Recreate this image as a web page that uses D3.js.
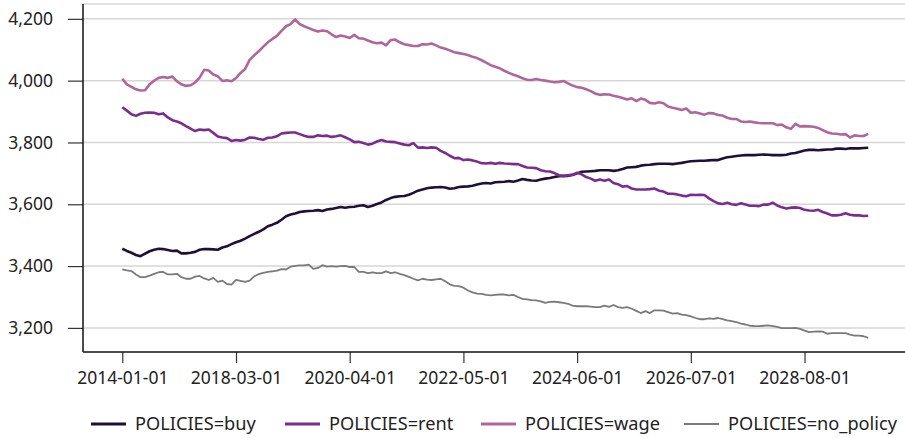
<!DOCTYPE html>
<html>
<head>
<meta charset="utf-8">
<script src="https://cdn.jsdelivr.net/npm/d3@7"></script>
<style>
  html, body { margin: 0; padding: 0; background: #fff; }
  svg text { font-family: "Noto Sans", "Open Sans", sans-serif; fill: #222; }
</style>
</head>
<body>
<svg id="chart" width="905" height="438"></svg>
<script>
// Period labels: the opening 2014 point, then monthly from March 2016
const fmt = d3.timeFormat("%Y-%m-%d");
const dates = ["2014-01-01"].concat(
  d3.range(164).map(k => fmt(d3.timeMonth.offset(new Date(2016, 2, 1), k)))
);

const yTicks = [3200, 3400, 3600, 3800, 4000, 4200];

const buy = [
  3456,3449,3443,3436,3432,3440,3448,3453,3456,3455,3452,3449,3450,3441,3441,3443,3446,3453,3455,3455,
  3454,3453,3460,3464,3471,3477,3482,3489,3497,3504,3511,3519,3529,3534,3540,3550,3561,3567,3570,3575,
  3577,3578,3579,3581,3578,3583,3585,3588,3591,3589,3591,3592,3595,3597,3591,3595,3601,3606,3614,3620,
  3624,3626,3627,3631,3637,3644,3648,3652,3654,3655,3656,3654,3650,3652,3656,3657,3658,3660,3664,3667,
  3669,3667,3671,3672,3673,3675,3673,3677,3682,3679,3677,3676,3680,3683,3685,3688,3691,3692,3692,3695,
  3700,3705,3706,3707,3708,3710,3710,3710,3708,3710,3714,3719,3720,3721,3725,3727,3728,3730,3731,3731,
  3731,3730,3732,3734,3737,3739,3740,3741,3741,3742,3743,3743,3748,3752,3754,3756,3758,3759,3759,3759,
  3760,3761,3760,3759,3759,3759,3760,3764,3766,3770,3774,3776,3776,3775,3776,3777,3777,3780,3780,3779,
  3781,3781,3781,3782,3783
];

const rent = [
  3914,3903,3891,3886,3893,3896,3897,3896,3891,3894,3881,3872,3868,3862,3853,3845,3837,3842,3840,3842,
  3831,3819,3816,3814,3805,3808,3806,3809,3816,3815,3811,3809,3815,3816,3820,3829,3831,3832,3832,3827,
  3822,3818,3818,3823,3821,3822,3818,3820,3823,3817,3810,3801,3802,3798,3793,3796,3803,3808,3803,3802,
  3801,3797,3793,3791,3798,3783,3784,3782,3784,3783,3773,3766,3757,3749,3750,3743,3745,3742,3738,3733,
  3732,3734,3731,3734,3732,3731,3730,3730,3724,3719,3718,3717,3710,3707,3706,3701,3694,3691,3694,3696,
  3702,3697,3688,3683,3676,3680,3676,3680,3669,3665,3657,3659,3651,3648,3648,3648,3649,3651,3644,3641,
  3634,3634,3632,3628,3626,3631,3630,3631,3630,3619,3610,3603,3601,3605,3600,3598,3603,3599,3595,3595,
  3594,3599,3599,3605,3596,3590,3586,3589,3590,3588,3582,3580,3579,3582,3575,3570,3564,3564,3566,3571,
  3566,3564,3564,3562,3563
];

const wage = [
  4006,3988,3980,3972,3968,3969,3988,4000,4009,4012,4009,4013,3998,3988,3983,3985,3994,4010,4035,4033,
  4020,4014,3999,4001,3998,4008,4025,4038,4067,4082,4095,4110,4124,4135,4145,4161,4176,4183,4198,4183,
  4176,4170,4164,4159,4162,4160,4150,4141,4146,4143,4138,4148,4137,4136,4130,4124,4121,4123,4114,4131,
  4133,4124,4118,4115,4112,4112,4118,4117,4120,4114,4107,4103,4098,4092,4089,4086,4083,4077,4073,4066,
  4058,4050,4045,4040,4032,4025,4019,4014,4008,4003,4002,4005,4002,4000,3997,3995,3996,3999,3991,3984,
  3979,3977,3972,3966,3958,3954,3956,3955,3951,3948,3944,3939,3943,3934,3942,3938,3928,3926,3930,3927,
  3916,3912,3909,3905,3910,3896,3898,3894,3890,3895,3894,3889,3887,3880,3876,3876,3868,3866,3868,3865,
  3863,3862,3862,3862,3856,3858,3849,3844,3860,3852,3853,3852,3851,3847,3840,3833,3829,3828,3826,3827,
  3816,3823,3821,3821,3828
];

const noPolicy = [
  3389,3386,3384,3373,3364,3364,3369,3375,3380,3381,3373,3373,3375,3364,3359,3359,3366,3368,3360,3355,
  3362,3349,3353,3342,3340,3355,3352,3349,3353,3367,3374,3378,3381,3383,3385,3390,3389,3398,3401,3402,
  3402,3405,3391,3394,3403,3398,3400,3398,3400,3401,3397,3397,3381,3381,3377,3380,3377,3377,3383,3377,
  3380,3375,3371,3365,3359,3354,3359,3356,3355,3357,3359,3351,3341,3336,3335,3330,3321,3315,3311,3310,
  3307,3305,3307,3308,3308,3305,3307,3300,3294,3292,3290,3289,3286,3281,3284,3285,3283,3281,3278,3272,
  3270,3270,3270,3269,3267,3267,3272,3268,3274,3267,3265,3267,3262,3255,3248,3254,3248,3257,3257,3256,
  3251,3246,3248,3243,3241,3237,3232,3228,3228,3231,3229,3232,3228,3224,3222,3219,3214,3211,3207,3206,
  3206,3207,3208,3206,3203,3199,3199,3199,3200,3197,3191,3186,3188,3189,3188,3181,3183,3183,3183,3183,
  3178,3175,3175,3173,3168
];

const seriesNames = ["POLICIES=buy", "POLICIES=rent", "POLICIES=wage", "POLICIES=no_policy"];
const seriesValues = [buy, rent, wage, noPolicy];
const colors = ["#1f1038", "#7b2d8e", "#b0669c", "#7a7a7a"];
const widths = [2.6, 2.6, 2.6, 1.8];

const svg = d3.select("#chart");
const plot = { left: 83, right: 905, top: 4, bottom: 352 };

const x = d3.scalePoint().domain(dates).range([122.3, 868.2]);
const y = d3.scaleLinear().domain([3122, 4248]).range([plot.bottom, plot.top]);

// horizontal gridlines and top frame line
svg.append("g").selectAll("line").data(yTicks).join("line")
  .attr("x1", plot.left).attr("x2", plot.right)
  .attr("y1", d => y(d)).attr("y2", d => y(d))
  .attr("stroke", "#d6d6d6").attr("stroke-width", 1.5);
svg.append("line")
  .attr("x1", plot.left).attr("x2", plot.right)
  .attr("y1", plot.top).attr("y2", plot.top)
  .attr("stroke", "#d6d6d6").attr("stroke-width", 1.5);

// lines
const line = d3.line().x((d, i) => x(dates[i])).y(d => y(d));
svg.append("g").selectAll("path").data(seriesValues).join("path")
  .attr("d", d => line(d))
  .attr("fill", "none")
  .attr("stroke", (d, i) => colors[i])
  .attr("stroke-width", (d, i) => widths[i])
  .attr("stroke-linejoin", "round");

// y axis
const yAxis = svg.append("g").attr("transform", `translate(${plot.left},0)`)
  .call(d3.axisLeft(y).tickValues(yTicks).tickFormat(d3.format(",")).tickSize(15).tickPadding(15));
yAxis.select(".domain").remove();
yAxis.selectAll(".tick line").attr("stroke", "#333").attr("stroke-width", 1.2);
yAxis.selectAll(".tick text").attr("font-size", 17.5).attr("fill", "#222");
svg.append("line").attr("x1", plot.left).attr("x2", plot.left)
  .attr("y1", plot.top).attr("y2", plot.bottom)
  .attr("stroke", "#111").attr("stroke-width", 1.5);

// x axis
const xAxis = svg.append("g").attr("transform", `translate(0,${plot.bottom})`)
  .call(d3.axisBottom(x).tickValues(dates.filter((d, i) => i % 25 === 0)).tickSize(11).tickPadding(9));
xAxis.select(".domain").remove();
xAxis.selectAll(".tick line").attr("stroke", "#333").attr("stroke-width", 1.2);
xAxis.selectAll(".tick text").attr("font-size", 17.5).attr("fill", "#222");
svg.append("line").attr("x1", plot.left).attr("x2", plot.right)
  .attr("y1", plot.bottom).attr("y2", plot.bottom)
  .attr("stroke", "#111").attr("stroke-width", 1.5);

// legend
const legendX = [91, 285, 481, 684];
const legend = svg.append("g").selectAll("g").data(seriesNames).join("g")
  .attr("transform", (d, i) => `translate(${legendX[i]},424)`);
legend.append("line").attr("x1", 0).attr("x2", 35).attr("y1", 0).attr("y2", 0)
  .attr("stroke", (d, i) => colors[i]).attr("stroke-width", (d, i) => i === 3 ? 2.2 : 3);
legend.append("text").attr("x", 44).attr("y", 0).attr("dy", "0.35em")
  .attr("font-size", 18.2).text(d => d);
</script>
</body>
</html>
